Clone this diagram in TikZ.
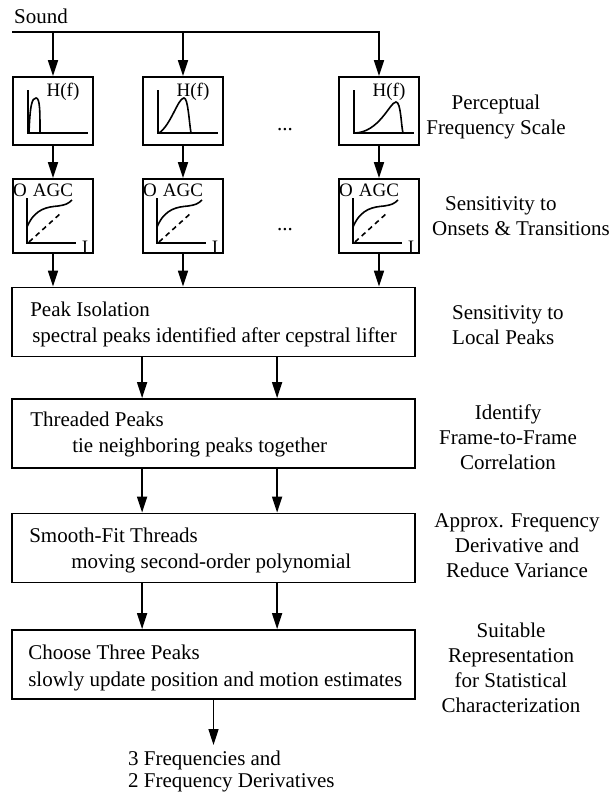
\documentclass[tikz,border=0pt]{standalone}
\usepackage{fontspec}
\setmainfont{Liberation Serif}
\usepackage{tikz}
\usetikzlibrary{arrows.meta,calc,positioning}

\tikzset{
  filt/.style={draw, line width=1.8pt, minimum width=80pt, minimum height=68pt, inner sep=0pt},
  agcbox/.style={filt, minimum height=74pt},
  stage/.style={draw, line width=1.8pt, minimum width=403pt, minimum height=69pt, inner sep=0pt},
  flow/.style={line width=1.6pt, -{Triangle[length=16pt,width=10pt]}},
  lbl/.style={inner sep=0pt, anchor=base west},
  side/.style={inner sep=0pt, align=center, font=\fontsize{21}{25}\selectfont},
  small/.style={inner sep=0pt, font=\fontsize{19}{19}\selectfont},
  axis/.style={line width=1.6pt},
  resp/.style={line width=1.6pt},
}

\begin{document}
\begin{tikzpicture}[x=1pt,y=-1pt,font=\fontsize{21}{26}\selectfont]
\useasboundingbox (0,0) rectangle (613,792);

\node[lbl] (snd) at (14,24) {Sound};
\coordinate (tap) at (12,32);

\node[filt] (hf1) at (53,111) {};
\node[filt] (hf2) at (183,111) {};
\node[filt] (hf3) at (379,111) {};
\node[agcbox] (agc1) at (53,216) {};
\node[agcbox] (agc2) at (183,216) {};
\node[agcbox] (agc3) at (379,216) {};

\node (dotsA) at (285,130) {...};
\node (dotsB) at (285,230) {...};

\draw[flow] (tap) -| (hf3.north);
\draw[flow] (tap -| hf1.north) -- (hf1.north);
\draw[flow] (tap -| hf2.north) -- (hf2.north);

\foreach \b in {hf1,hf2,hf3} {
  \begin{scope}[shift={(\b.center)}]
    \draw[axis] (-25,-21) -- (-25,22) -- (35,22);
    \node[small] at (10,-19) {H(f)};
  \end{scope}
}
\begin{scope}[shift={(hf1.center)}]
  \draw[resp] (-24,22) .. controls (-23,-6) and (-21,-13) .. (-17,-13)
    .. controls (-13,-13) and (-13,0) .. (-13,22);
\end{scope}
\begin{scope}[shift={(hf2.center)}]
  \draw[resp] (-24,22) .. controls (-12,14) and (-5,-13) .. (1,-13)
    .. controls (5,-13) and (6,10) .. (8,22);
\end{scope}
\begin{scope}[shift={(hf3.center)}]
  \draw[resp] (-25,22) .. controls (0,22) and (11,-9) .. (17,-9)
    .. controls (22,-9) and (22,14) .. (24,22);
\end{scope}

\foreach \b in {agc1,agc2,agc3} {
  \begin{scope}[shift={(\b.center)}]
    \draw[axis] (-26,-18) -- (-26,27) -- (23,27);
    \node[small] at (-33,-26) {O};
    \node[small] at (0,-26) {AGC};
    \node[small] at (32,31) {I};
    \draw[resp] (-26,11) .. controls (-18,-8) and (-5,-9) .. (5,-10)
      .. controls (12,-11) and (15,-12) .. (19,-16);
    \draw[resp, dashed, dash pattern=on 5pt off 4pt] (-24,26) -- (8,-3);
  \end{scope}
}

\draw[flow] (hf1) -- (agc1);
\draw[flow] (hf2) -- (agc2);
\draw[flow] (hf3) -- (agc3);

\node[stage] (iso) at (213.5,322) {};
\node[stage] (thr) at (213.5,433.5) {};
\node[stage] (sft) at (213.5,548) {};
\node[stage] (ctp) at (213.5,664.5) {};

\draw[flow] (agc1.south) -- (agc1.south |- iso.north);
\draw[flow] (agc2.south) -- (agc2.south |- iso.north);
\draw[flow] (agc3.south) -- (agc3.south |- iso.north);

\node[lbl] (isoA) at ($(iso.north west)+(19,30)$) {Peak Isolation};
\node[lbl] (isoB) at ($(iso.north west)+(21,56)$) {spectral peaks identified after cepstral lifter};
\node[lbl] (thrA) at ($(thr.north west)+(19,28)$) {Threaded Peaks};
\node[lbl] (thrB) at ($(thr.north west)+(61,54)$) {tie neighboring peaks together};
\node[lbl] (sftA) at ($(sft.north west)+(18,30)$) {Smooth-Fit Threads};
\node[lbl] (sftB) at ($(sft.north west)+(60,56)$) {moving second-order polynomial};
\node[lbl] (ctpA) at ($(ctp.north west)+(17,30)$) {Choose Three Peaks};
\node[lbl] (ctpB) at ($(ctp.north west)+(17,57)$) {slowly update position and motion estimates};

\foreach \a/\b in {iso/thr,thr/sft,sft/ctp}
  \foreach \dx in {131,266}
    \draw[flow] ($(\a.south west)+(\dx,0)$) -- ($(\b.north west)+(\dx,0)$);

\coordinate (out) at (213.5,745);
\draw[flow] (ctp.south) -- (out);
\node[lbl] (resA) at (128,765) {3 Frequencies and};
\node[lbl] (resB) at (128,787) {2 Frequency Derivatives};

\node[side] (pfs) at (496,117) {Perceptual\\Frequency Scale};
\node[side, align=left] (sot) at (521,216) {\hspace*{13pt}Sensitivity to\\Onsets \& Transitions};
\node[side, align=left, anchor=west] (slp) at (452,325) {Sensitivity to\\Local Peaks};
\node[side] (iff) at (508,437) {Identify\\Frame-to-Frame\\Correlation};
\node[side] (afd) at (517,546) {Approx. Frequency\\Derivative and\\Reduce Variance};
\node[side] (src) at (511,668) {Suitable\\Representation\\for Statistical\\Characterization};

\end{tikzpicture}
\end{document}
